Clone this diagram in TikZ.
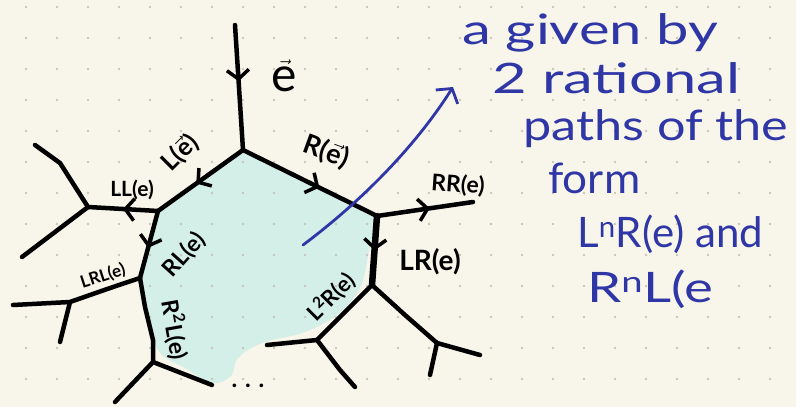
\documentclass[tikz,border=0pt]{standalone}
\usepackage{fontspec}
\setmainfont{Lato}
\usetikzlibrary{arrows.meta,decorations.markings}
\definecolor{paper}{RGB}{248,246,234}
\definecolor{dotgray}{RGB}{200,198,188}
\definecolor{cellfill}{RGB}{212,238,232}
\definecolor{handblue}{RGB}{47,54,166}

\begin{document}
\begin{tikzpicture}[x=1pt, y=-1pt,
  edge/.style={line width=4.5pt, line cap=round, line join=round},
  midarrow/.style={postaction={decorate}, decoration={markings,
      mark=at position #1 with {\arrow[line width=3.5pt]{Straight Barb[length=9pt, width=22pt]}}}},
  lbl/.style={font=\fontsize{#1}{#1}\selectfont\bfseries, inner sep=1pt},
  lbl/.default=22,
  note/.style={handblue, font=\fontsize{42}{42}\selectfont, anchor=base west, inner sep=0pt},
  ]

% ======================================================================
% Paper, cell and dot grid
% ======================================================================
\fill[paper] (0,0) rectangle (796,407);
\useasboundingbox (0,0) rectangle (796,407);

% tree vertices
\coordinate (etop) at (235,25);
\coordinate (V0)   at (243,150);
\coordinate (VL)   at (158,211);
\coordinate (VR)   at (377,216);
\coordinate (VLL)  at (88,207);
\coordinate (VRL)  at (140,278);
\coordinate (VLR)  at (372,285);
\coordinate (RRL)  at (153,362);
\coordinate (LRL)  at (70,302);
\coordinate (LLR)  at (317,340);
\coordinate (RLR)  at (437,343);
\coordinate (RRe)  at (473,202);

\fill[cellfill] (V0) -- (VL) -- (VRL)
  -- plot[smooth, tension=0.6] coordinates {(146,306) (158,350) (185,368)
     (212,383) (231,376) (238,358) (262,343) (305,332) (338,314) (360,288)
     (368,255)}
  -- (VR) -- cycle;

\foreach \i in {0,...,24}
  \foreach \j in {0,...,12}
    \fill[dotgray] ({26+31*\i},{7+31*\j}) circle (1.4);

% ======================================================================
% Tree edges
% ======================================================================
\draw[edge, midarrow=0.45] (etop) -- (V0);
\draw[edge, midarrow=0.55] (V0) -- (VL);
\draw[edge, midarrow=0.57] (V0) -- (VR);

% left branch
\draw[edge, midarrow=0.5]  (VL) -- (VLL);
\draw[edge] (VLL) -- (60,163) -- (35,145);
\draw[edge] (VLL) -- (22,257);
\draw[edge, midarrow=0.55] (VL) -- (VRL);
\draw[edge] (VRL) .. controls (110,288) .. (LRL) -- (13,305);
\draw[edge] (LRL) -- (60,342);
\draw[edge] (VRL) -- (145,307) -- (153,340) -- (RRL);
\draw[edge] (RRL) -- (115,402);
\draw[edge] (RRL) -- (212,385);

% right branch
\draw[edge, midarrow=0.55] (VR) -- (RRe);
\draw[edge, line width=6.5pt, midarrow=0.5] (VR) -- (VLR);
\draw[edge] (VLR) -- (LLR);
\draw[edge] (LLR) -- (267,345);
\draw[edge] (LLR) -- (340,370) -- (355,387);
\draw[edge] (VLR) -- (405,315) -- (RLR);
\draw[edge] (RLR) -- (480,355);
\draw[edge] (RLR) -- (430,375);

% ======================================================================
% Edge labels
% ======================================================================
\node[font=\fontsize{48}{48}\selectfont] (lbe) at (284,76) {$\vec{\mbox{e}}$};
\node[lbl=25, rotate=45]  (lbL)   at (180,153) {L($\vec{\mbox{e}}$)};
\node[lbl=27, rotate=-20] (lbR)   at (326,152) {R($\vec{\mbox{e}}$)};
\node[lbl=21]             (lbLL)  at (132,190) {LL(e)};
\node[lbl=23, rotate=48]  (lbRL)  at (184,255) {RL(e)};
\node[lbl=17, rotate=18]  (lbLRL) at (103,276) {LRL(e)};
\node[lbl=23, rotate=-80] (lbRRL) at (175,330) {R\textsuperscript{2}L(e)};
\node[lbl=23, rotate=-4]  (lbRR)  at (458,185) {RR(e)};
\node[lbl=28]             (lbLR)  at (430,262) {LR(e)};
\node[lbl=22, rotate=45]  (lbLLR) at (331,297) {L\textsuperscript{2}R(e)};
\node[lbl=24]             (dots)  at (248,386) {. . .};

% ======================================================================
% Note in blue
% ======================================================================
\coordinate (bstart) at (303,245);
\coordinate (btip)   at (453,87);
\draw[handblue, line width=2.8pt, line cap=round,
      -{Straight Barb[length=10pt, width=26pt]}]
  (bstart) .. controls (350,210) and (410,155) .. (btip);

\node[note, xscale=1.38] (n1) at (462,44)  {a given by};
\node[note, xscale=1.42] (n2) at (492,93)  {2 rational};
\node[note, xscale=1.2]  (n3) at (523,140) {paths of the};
\node[note, xscale=1.05] (n4) at (548,193) {form};
\node[note]              (n5) at (577,247) {L\textsuperscript{n}R(e) and};
\node[note, xscale=1.3]  (n6) at (587,302) {R\textsuperscript{n}L(e};

\end{tikzpicture}
\end{document}
